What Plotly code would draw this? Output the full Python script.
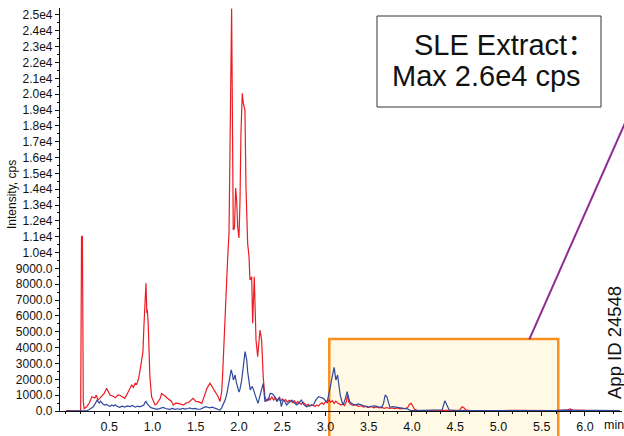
import plotly.graph_objects as go

# ---- chromatogram data: retention time (min) / intensity (cps) ----
red_time = [0.00, 0.05, 0.10, 0.15, 0.17, 0.18, 0.19, 0.20, 0.21, 0.24, 0.27, 0.30, 0.32, 0.335, 0.35,
            0.37, 0.39, 0.41, 0.44, 0.47, 0.49, 0.51, 0.54, 0.57, 0.60, 0.62, 0.65, 0.68, 0.70, 0.72,
            0.74, 0.76, 0.78, 0.80, 0.82, 0.84, 0.86, 0.875, 0.89, 0.90, 0.91, 0.92, 0.925, 0.935, 0.94,
            0.95, 0.96, 0.97, 0.99, 1.01, 1.03, 1.05, 1.07, 1.09, 1.105, 1.125, 1.145, 1.17, 1.20, 1.22,
            1.24, 1.27, 1.30, 1.33, 1.36, 1.39, 1.41, 1.44, 1.47, 1.50, 1.53, 1.57, 1.60, 1.63, 1.665,
            1.70, 1.72, 1.74, 1.76, 1.78, 1.80, 1.81, 1.83, 1.85, 1.87, 1.885, 1.895, 1.905, 1.915, 1.925,
            1.934, 1.948, 1.962, 1.973, 1.985, 2.000, 2.012, 2.023, 2.031, 2.038, 2.050, 2.069, 2.081, 2.100,
            2.116, 2.127, 2.147, 2.158, 2.177, 2.197, 2.216, 2.243, 2.262, 2.280, 2.30, 2.32, 2.34, 2.36,
            2.38, 2.40, 2.42, 2.44, 2.46, 2.48, 2.50, 2.52, 2.54, 2.56, 2.58, 2.60, 2.62, 2.64, 2.66,
            2.68, 2.70, 2.72, 2.74, 2.76, 2.78, 2.80, 2.82, 2.84, 2.86, 2.88, 2.90, 2.92, 2.94, 2.96,
            2.98, 3.00, 3.02, 3.04, 3.06, 3.08, 3.10, 3.12, 3.14, 3.16, 3.18, 3.20, 3.22, 3.24, 3.255,
            3.27, 3.29, 3.32, 3.35, 3.38, 3.41, 3.44, 3.47, 3.50, 3.53, 3.56, 3.59, 3.62, 3.65, 3.68,
            3.71, 3.74, 3.77, 3.80, 3.83, 3.86, 3.89, 3.92, 3.95, 3.97, 3.99, 4.01, 4.03, 4.06, 4.10,
            4.20, 4.30, 4.40, 4.50, 4.55, 4.58, 4.60, 4.62, 4.66, 4.75, 4.90, 5.05, 5.20, 5.35, 5.50,
            5.65, 5.80, 5.83, 5.86, 5.95, 6.05, 6.20, 6.40]
red_cps = [30, 20, 30, 20, 0, 11000, 11050, 600, 150, 270, 500, 900, 850, 820, 1000,
           690, 800, 950, 1100, 1430, 1200, 1010, 950, 840, 1000, 1010, 900, 800, 1000, 1220,
           1450, 1640, 1500, 1750, 1700, 2060, 2690, 3200, 3750, 5220, 6200, 7000, 8060, 6190, 6400,
           5600, 4300, 2170, 900, 650, 380, 450, 590, 800, 1110, 1000, 950, 820, 690, 600,
           380, 500, 480, 430, 380, 520, 520, 650, 800, 600, 590, 480, 900, 1430, 1750,
           1430, 1300, 1110, 900, 590, 1200, 2170, 4900, 8060, 9740, 11240, 15420, 19630, 25400, 18000,
           11430, 11550, 14080, 13320, 11630, 10920, 13320, 17550, 19630, 20060, 19440, 19000, 14160, 10600,
           9740, 8270, 8480, 5540, 8480, 4480, 3430, 5110, 4480, 2170, 900, 620, 820, 700,
           900, 690, 850, 700, 780, 600, 760, 650, 720, 560, 680, 620, 540, 650, 480,
           600, 500, 420, 560, 450, 350, 420, 300, 400, 330, 280, 380, 320, 450, 520,
           420, 600, 520, 700, 560, 650, 480, 620, 500, 450, 380, 450, 350, 560, 1000,
           550, 420, 350, 400, 300, 330, 250, 300, 230, 280, 200, 250, 200, 230, 170,
           220, 160, 190, 150, 200, 130, 170, 150, 220, 420, 480, 300, 100, 40, 30,
           50, 30, 40, 30, 50, 260, 200, 80, 40, 30, 50, 30, 40, 30, 50,
           30, 80, 130, 40, 60, 30, 50, 30]

blue_time = [0.00, 0.10, 0.20, 0.22, 0.24, 0.26, 0.28, 0.30, 0.32, 0.335, 0.35, 0.36, 0.375, 0.385, 0.40,
             0.41, 0.43, 0.45, 0.47, 0.49, 0.51, 0.53, 0.55, 0.57, 0.59, 0.62, 0.65, 0.68, 0.71, 0.74,
             0.77, 0.80, 0.83, 0.855, 0.88, 0.90, 0.915, 0.925, 0.94, 0.95, 0.97, 0.99, 1.02, 1.05, 1.08,
             1.11, 1.125, 1.15, 1.18, 1.20, 1.23, 1.26, 1.29, 1.32, 1.35, 1.38, 1.41, 1.43, 1.46, 1.49,
             1.52, 1.55, 1.58, 1.61, 1.63, 1.66, 1.69, 1.72, 1.75, 1.78, 1.80, 1.82, 1.84, 1.86, 1.875,
             1.89, 1.91, 1.925, 1.935, 1.945, 1.955, 1.97, 1.985, 2.00, 2.01, 2.03, 2.05, 2.06, 2.07,
             2.08, 2.09, 2.10, 2.11, 2.13, 2.145, 2.155, 2.17, 2.185, 2.20, 2.22, 2.24, 2.26, 2.28,
             2.30, 2.32, 2.34, 2.36, 2.38, 2.40, 2.42, 2.44, 2.47, 2.49, 2.51, 2.53, 2.55, 2.58, 2.61,
             2.64, 2.67, 2.70, 2.72, 2.75, 2.78, 2.82, 2.86, 2.89, 2.92, 2.95, 2.975, 3.00, 3.02, 3.045,
             3.07, 3.09, 3.10, 3.12, 3.14, 3.155, 3.17, 3.19, 3.205, 3.23, 3.25, 3.28, 3.31, 3.34, 3.38,
             3.42, 3.46, 3.49, 3.53, 3.57, 3.61, 3.65, 3.67, 3.69, 3.71, 3.73, 3.745, 3.78, 3.82, 3.86,
             3.90, 3.94, 3.98, 4.02, 4.10, 4.20, 4.30, 4.35, 4.38, 4.40, 4.43, 4.50, 4.60, 4.75, 4.90,
             5.05, 5.20, 5.35, 5.50, 5.65, 5.80, 5.95, 6.10, 6.25, 6.40]
blue_cps = [0, 0, 0, 10, 30, 60, 120, 200, 300, 420, 560, 680, 560, 500, 620,
            560, 430, 380, 420, 330, 300, 380, 320, 400, 300, 230, 300, 250, 320, 280,
            350, 240, 300, 260, 320, 380, 560, 600, 450, 380, 260, 200, 150, 110, 150,
            200, 230, 160, 120, 110, 160, 100, 140, 110, 170, 120, 160, 200, 130, 170,
            120, 110, 180, 270, 250, 200, 240, 170, 110, 60, 200, 450, 690, 1100, 1530,
            2100, 2600, 2300, 1960, 2100, 2270, 1800, 1530, 1200, 1330, 1900, 2800, 3300, 3750,
            3500, 3220, 2500, 1960, 1330, 1500, 1530, 1300, 1110, 800, 480, 900, 1330, 1750,
            590, 700, 690, 1110, 1100, 1010, 800, 590, 900, 270, 690, 600, 380, 550, 690,
            500, 380, 550, 690, 400, 270, 350, 380, 700, 900, 850, 800, 650, 590, 1220,
            2060, 2500, 2750, 1960, 2270, 1600, 1010, 600, 380, 800, 1220, 590, 450, 380, 450,
            380, 300, 230, 300, 320, 260, 230, 450, 1010, 900, 400, 230, 280, 230, 200,
            170, 150, 40, 20, 30, 20, 40, 80, 650, 420, 60, 30, 20, 40, 20,
            30, 20, 40, 20, 30, 50, 20, 40, 20, 30]

# ---- axis ticks ----
y_tick_values = [0, 1000, 2000, 3000, 4000, 5000, 6000, 7000, 8000, 9000, 10000, 11000, 12000,
                 13000, 14000, 15000, 16000, 17000, 18000, 19000, 20000, 21000, 22000, 23000,
                 24000, 25000]
y_tick_labels = ["0.0", "1000.0", "2000.0", "3000.0", "4000.0", "5000.0", "6000.0", "7000.0",
                 "8000.0", "9000.0", "1.0e4", "1.1e4", "1.2e4", "1.3e4", "1.4e4", "1.5e4", "1.6e4",
                 "1.7e4", "1.8e4", "1.9e4", "2.0e4", "2.1e4", "2.2e4", "2.3e4", "2.4e4", "2.5e4"]
x_tick_values = [0.5, 1.0, 1.5, 2.0, 2.5, 3.0, 3.5, 4.0, 4.5, 5.0, 5.5, 6.0]
x_tick_labels = ["0.5", "1.0", "1.5", "2.0", "2.5", "3.0", "3.5", "4.0", "4.5", "5.0", "5.5", "6.0"]

# highlighted late-eluting window (min) and its height (cps)
window_start, window_end = 3.044, 5.691
window_top = 4550

# ---- figure geometry ----
W, H = 624, 436
ML, MR, MT, MB = 60, 2, 8, 25
PW, PH = W - ML - MR, H - MT - MB
XR = [-0.069, 6.428]
YR = [0, 25440]

FONT = "Liberation Sans, Arial, Helvetica, sans-serif"


def data_x(t):
    return (t - XR[0]) / (XR[1] - XR[0])


def data_y(v):
    return (v - YR[0]) / (YR[1] - YR[0])


def px_x(px):
    return (px - ML) / PW


def px_y(py):
    return (H - MB - py) / PH


fig = go.Figure()
fig.add_trace(go.Scatter(x=red_time, y=red_cps, mode="lines",
                         line=dict(color="#EC1C24", width=1.2), showlegend=False))
fig.add_trace(go.Scatter(x=blue_time, y=blue_cps, mode="lines",
                         line=dict(color="#30489C", width=1.2), showlegend=False))

shapes = [
    # highlighted window, running down past the time axis
    dict(type="rect", xref="paper", yref="paper",
         x0=data_x(window_start), x1=data_x(window_end),
         y0=px_y(H + 10), y1=data_y(window_top),
         fillcolor="#FFF9E6", line=dict(color="#F7901E", width=2.5), layer="below"),
    # pointer line leading out of the window
    dict(type="line", xref="paper", yref="paper",
         x0=px_x(529.3), y0=px_y(339.3), x1=px_x(650), y1=px_y(66.5),
         line=dict(color="#8E2C91", width=2), layer="above"),
    # caption frame
    dict(type="rect", xref="paper", yref="paper",
         x0=px_x(377), x1=px_x(601), y0=px_y(107), y1=px_y(16),
         fillcolor="white", line=dict(color="#333333", width=1), layer="above"),
]

annotations = [
    dict(text="SLE Extract：", xref="paper", yref="paper", x=px_x(412), y=px_y(45),
         xanchor="left", yanchor="middle", showarrow=False,
         font=dict(family=FONT + ", Noto Sans CJK SC", size=29, color="#111111")),
    dict(text="Max 2.6e4 cps", xref="paper", yref="paper", x=px_x(390), y=px_y(76),
         xanchor="left", yanchor="middle", showarrow=False,
         font=dict(family=FONT, size=29, color="#111111")),
    dict(text="Intensity, cps", xref="paper", yref="paper", x=px_x(12), y=px_y(195),
         xanchor="center", yanchor="middle", textangle=-90, showarrow=False,
         font=dict(family=FONT, size=12, color="#111111")),
    dict(text="min", xref="paper", yref="paper", x=px_x(614), y=px_y(425),
         xanchor="center", yanchor="middle", showarrow=False,
         font=dict(family=FONT, size=12.5, color="#111111")),
    dict(text="App ID 24548", xref="paper", yref="paper", x=px_x(614), y=px_y(343),
         xanchor="center", yanchor="middle", textangle=-90, showarrow=False,
         font=dict(family=FONT, size=18.5, color="#111111")),
]

fig.update_layout(
    width=W, height=H,
    margin=dict(l=ML, r=MR, t=MT, b=MB, pad=0),
    paper_bgcolor="white", plot_bgcolor="rgba(0,0,0,0)",
    font=dict(family=FONT, size=12, color="#111111"),
    shapes=shapes, annotations=annotations,
    xaxis=dict(range=XR, tickmode="array", tickvals=x_tick_values, ticktext=x_tick_labels,
               ticks="outside", ticklen=4, tickwidth=1, tickcolor="#111111",
               showline=True, linecolor="#111111", linewidth=1.2, showgrid=False, zeroline=False,
               tickfont=dict(family=FONT, size=12.5, color="#111111"),
               minor=dict(tick0=0, dtick=0.5 / 3, ticks="outside", ticklen=2,
                          tickcolor="#111111", showgrid=False)),
    yaxis=dict(range=YR, tickmode="array", tickvals=y_tick_values, ticktext=y_tick_labels,
               ticks="outside", ticklen=4, tickwidth=1, tickcolor="#111111",
               showline=True, linecolor="#111111", linewidth=1.2, showgrid=False, zeroline=False,
               tickfont=dict(family=FONT, size=12, color="#111111"),
               minor=dict(tick0=0, dtick=500, ticks="outside", ticklen=2,
                          tickcolor="#111111", showgrid=False)),
)

fig.write_html("out.html")
